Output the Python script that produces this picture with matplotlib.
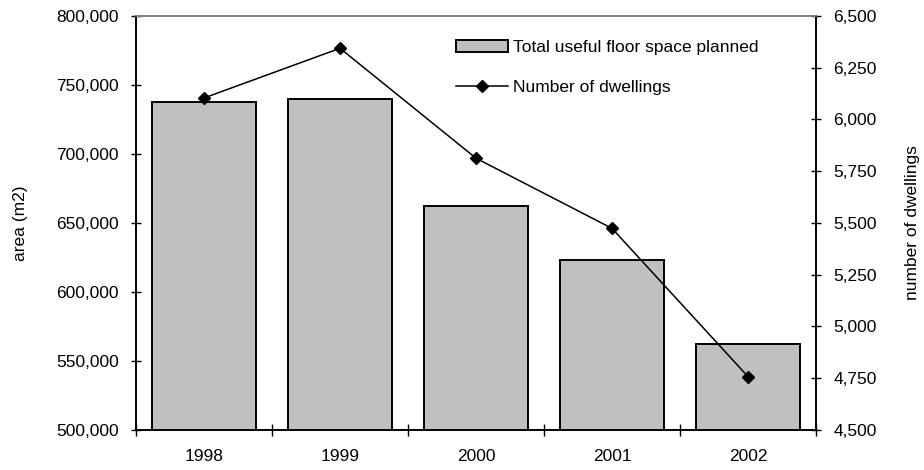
import matplotlib
matplotlib.use("Agg")
import matplotlib.pyplot as plt
import numpy as np
from matplotlib.ticker import FuncFormatter, FixedLocator

plt.rcParams['font.family'] = ['Liberation Sans', 'DejaVu Sans']

years = ["1998", "1999", "2000", "2001", "2002"]
floor_space = [738000, 739600, 662300, 623200, 562300]
dwellings = [6104, 6344, 5813, 5474, 4758]
left_ticks = [500000, 550000, 600000, 650000, 700000, 750000, 800000]
right_ticks = [4500, 4750, 5000, 5250, 5500, 5750, 6000, 6250, 6500]

FS = 12.5

fig = plt.figure(figsize=(9.24, 4.70), dpi=100)
ax = fig.add_axes([136/924, 1-430/470, (816-136)/924, (430-16)/470])
ax2 = ax.twinx()

x = np.arange(len(years))
bars = ax.bar(x, floor_space, width=0.765, color='#c0c0c0', edgecolor='black',
              linewidth=1.4, label='Total useful floor space planned', zorder=2)
line, = ax2.plot(x, dwellings, color='black', linewidth=1.1, marker='D', markersize=6.5,
                 label='Number of dwellings', zorder=3)

ax.set_xlim(-0.5, len(years) - 0.5)
ax.set_ylim(left_ticks[0], left_ticks[-1])
ax2.set_ylim(right_ticks[0], right_ticks[-1])
ax.set_yticks(left_ticks)
ax2.set_yticks(right_ticks)
fmt = FuncFormatter(lambda v, p: f"{int(v):,}")
ax.yaxis.set_major_formatter(fmt)
ax2.yaxis.set_major_formatter(fmt)

ax.set_xticks(x)
ax.set_xticklabels(years)
ax.xaxis.set_minor_locator(FixedLocator(np.arange(-0.5, len(years), 1.0)))
ax.tick_params(axis='x', which='major', length=0, pad=14, labelsize=FS)
ax.tick_params(axis='x', which='minor', direction='inout', length=8, width=1, color='black')
ax.tick_params(axis='y', direction='inout', length=7, width=1, pad=9, labelsize=FS)
ax2.tick_params(axis='y', direction='inout', length=7, width=1, pad=9, labelsize=FS)

for a in (ax, ax2):
    a.spines['top'].set_color('#808080')
    a.spines['left'].set_color('black')
    a.spines['right'].set_color('black')
    a.spines['bottom'].set_color('black')
    for s in a.spines.values():
        s.set_linewidth(1.2)

ax.set_ylabel('area (m2)', fontsize=FS, labelpad=20)
ax2.set_ylabel('number of dwellings', fontsize=FS, labelpad=20)

ax2.legend([bars, line], ['Total useful floor space planned', 'Number of dwellings'],
           loc='upper left', bbox_to_anchor=(456/924, 1-40/470), bbox_transform=fig.transFigure,
           frameon=False, fontsize=FS, borderpad=0, borderaxespad=0, handlelength=3.0,
           handletextpad=0.3, labelspacing=1.4)

fig.savefig('out.png', dpi=100)
